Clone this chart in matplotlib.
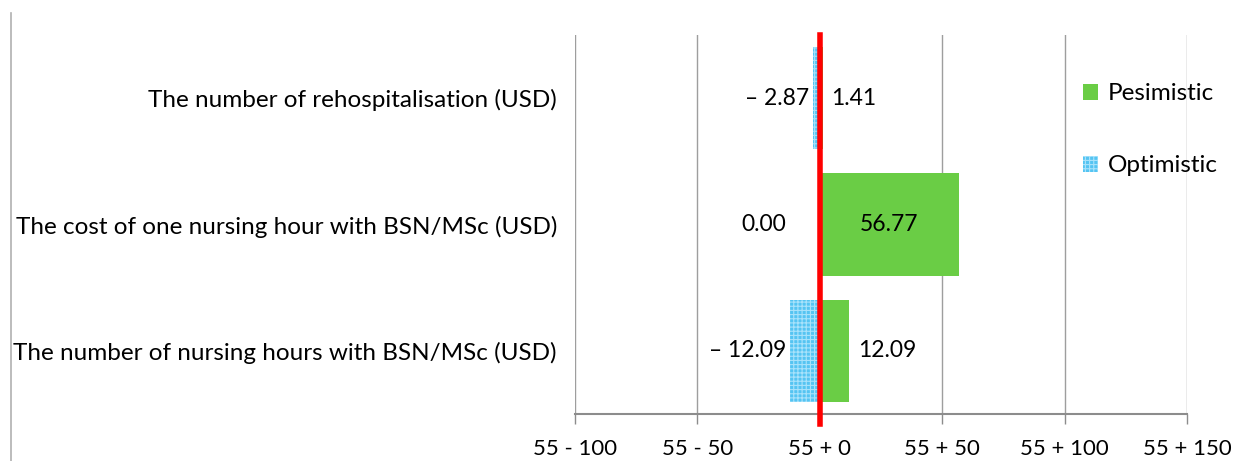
import matplotlib
matplotlib.use("Agg")
import matplotlib.pyplot as plt
from matplotlib.lines import Line2D

# sensitivity of the result to each parameter (difference from base case)
categories = ["The number of nursing hours with BSN/MSc (USD)",
              "The cost of one nursing hour with BSN/MSc (USD)",
              "The number of rehospitalisation (USD)"]
optimistic = [-12.09, 0.00, -2.87]
pesimistic = [12.09, 56.77, 1.41]
base = 55
xticks = [-100, -50, 0, 50, 100, 150]
xticklabels = ["55 - 100", "55 - 50", "55 + 0", "55 + 50", "55 + 100", "55 + 150"]

green = "#6acd45"
blue = "#55c4f2"

plt.rcParams["font.family"] = ["Lato", "DejaVu Sans"]
plt.rcParams["hatch.color"] = "#a8e2fb"
plt.rcParams["hatch.linewidth"] = 0.8

fig = plt.figure(figsize=(12.36, 4.61), dpi=100)
ax = fig.add_axes([575 / 1236, 47 / 461, 612 / 1236, 379 / 461])

y = range(len(categories))
b_opt = ax.barh(y, optimistic, height=0.81, color=blue, hatch="++++",
                linewidth=0, label="Optimistic", zorder=2)
b_pes = ax.barh(y, pesimistic, height=0.81, color=green,
                linewidth=0, label="Pesimistic", zorder=2)

fs = 16.5
for i, v in enumerate(optimistic):
    txt = "0.00" if v == 0 else "\u2013 %.2f" % abs(v)
    off = -24 if v == 0 else -2.5
    ax.annotate(txt, (v, i), xytext=(off, 0), textcoords="offset points",
                ha="right", va="center", fontsize=fs, color="black")
for i, v in enumerate(pesimistic):
    if v > 30:
        ax.text(v / 2, i, "%.2f" % v, ha="center", va="center",
                fontsize=fs, color="black", zorder=3)
    else:
        ax.annotate("%.2f" % v, (v, i), xytext=(6, 0), textcoords="offset points",
                    ha="left", va="center", fontsize=fs, color="black")

# base case line
ax.plot([0, 0], [-0.58, 2.5], color="red", lw=4, zorder=4, clip_on=False)

ax.set_xlim(-100, 150)
ax.set_ylim(-0.5, 2.5)
ax.set_xticks(xticks)
ax.set_xticklabels(xticklabels, fontsize=16)
ax.set_yticks(list(y))
ax.set_yticklabels(categories, fontsize=17.5)
ax.tick_params(axis="y", length=0, pad=13)
ax.tick_params(axis="x", length=7, width=1, color="#8c8c8c", pad=11)
ax.grid(axis="x", color="#9e9e9e", lw=1, zorder=0)
for s in ["left", "right", "top"]:
    ax.spines[s].set_visible(False)
ax.spines["bottom"].set_color("#8c8c8c")
ax.spines["bottom"].set_linewidth(1.5)

ax.legend(handles=[b_pes, b_opt], loc="upper left", bbox_to_anchor=(0.795, 0.93),
          frameon=False, fontsize=17.5, handlelength=0.6, handleheight=0.6,
          handletextpad=0.4, labelspacing=2.1)

# outer frame line on the left
fig.add_artist(Line2D([11 / 1236, 11 / 1236], [0, 448 / 461],
                      transform=fig.transFigure, color="#b0b0b0", lw=1.2))

fig.savefig("out.png", dpi=100)
